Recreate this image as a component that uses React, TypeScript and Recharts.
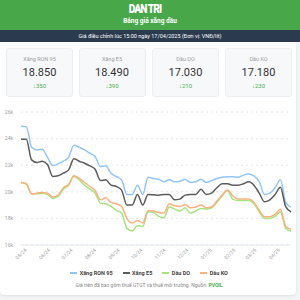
import React from 'react';
import { LineChart, Line, XAxis, YAxis, CartesianGrid } from 'recharts';

const dates = [
  '2024-04-25', '2024-05-02', '2024-05-09', '2024-05-16', '2024-05-23', '2024-05-30',
  '2024-06-06', '2024-06-13', '2024-06-20', '2024-06-27', '2024-07-04', '2024-07-11',
  '2024-07-18', '2024-07-25', '2024-08-01', '2024-08-08', '2024-08-15', '2024-08-22',
  '2024-08-29', '2024-09-05', '2024-09-12', '2024-09-19', '2024-09-26', '2024-10-03',
  '2024-10-10', '2024-10-17', '2024-10-24', '2024-10-31', '2024-11-07', '2024-11-14',
  '2024-11-21', '2024-11-28', '2024-12-05', '2024-12-12', '2024-12-19', '2024-12-26',
  '2025-01-02', '2025-01-09', '2025-01-16', '2025-01-23', '2025-01-30', '2025-02-06',
  '2025-02-13', '2025-02-20', '2025-02-27', '2025-03-06', '2025-03-13', '2025-03-20',
  '2025-03-27', '2025-04-03', '2025-04-10', '2025-04-17',
];

const ron95 = [
  24930, 24900, 23350, 23150, 23200, 22600, 21970, 22100, 22300, 22600, 23500, 23350,
  23150, 22900, 22650, 21900, 21950, 21400, 21150, 20900, 19800, 19800, 20500, 19800,
  21100, 21000, 20940, 20760, 20900, 20760, 20800, 20940, 20700, 20750, 20940, 20700,
  20850, 21000, 21100, 21140, 21140, 21100, 21250, 21340, 21200, 20760, 19800, 19900,
  20300, 20900, 19200, 18850,
];

const e5 = [
  23960, 23950, 22400, 22200, 22300, 22050, 21150, 21200, 21400, 21650, 22480, 22300,
  22150, 21950, 21700, 20850, 20900, 20500, 20400, 20130, 19000, 19000, 19800, 19000,
  19800, 19780, 19750, 19800, 19800, 19400, 19450, 19750, 19800, 19800, 20200, 19800,
  19900, 20300, 20600, 20600, 20500, 20500, 20600, 20760, 20500, 19900, 19250, 19400,
  19800, 20350, 18880, 18490,
];

const dieselDO = [
  20700, 20600, 19850, 19850, 19900, 19800, 19500, 19650, 20200, 20500, 21150, 20900,
  20500, 20200, 19900, 19150, 19100, 18900, 18600, 18400, 17250, 17050, 17450, 17400,
  18500, 18450, 18150, 18050, 18850, 18700, 18550, 18800, 18400, 18550, 18750, 18700,
  18800, 19200, 19700, 20100, 19450, 19350, 19350, 19350, 19100, 18500, 18000, 18000,
  18150, 18500, 17240, 17030,
];

const keroKO = [
  20700, 20600, 19850, 19900, 19950, 19900, 19600, 19750, 20300, 20550, 21200, 21000,
  20700, 20400, 20100, 19400, 19550, 19200, 19100, 18900, 18000, 17650, 17850, 17650,
  18600, 18550, 18450, 18400, 19100, 18950, 18900, 19050, 18800, 18850, 19000, 18800,
  18850, 19300, 19750, 20130, 19700, 19450, 19450, 19450, 19200, 18600, 18130, 18130,
  18300, 18680, 17410, 17180,
];

const tickDates = [
  '2024-05-01', '2024-06-01', '2024-07-01', '2024-08-01', '2024-09-01', '2024-10-01',
  '2024-11-01', '2024-12-01', '2025-01-01', '2025-02-01', '2025-03-01', '2025-04-01',
];
const tickLabels = ['05/24', '06/24', '07/24', '08/24', '09/24', '10/24', '11/24', '12/24', '01/25', '02/25', '03/25', '04/25'];
const yTicks = [16000, 18000, 20000, 22000, 24000, 26000];

const cardNames = ['Xăng RON 95', 'Xăng E5', 'Dầu DO', 'Dầu KO'];
const cardPrices = ['18.850', '18.490', '17.030', '17.180'];
const cardChanges = ['350', '390', '210', '230'];

const seriesNames = ['Xăng RON 95', 'Xăng E5', 'Dầu DO', 'Dầu KO'];
const seriesKeys = ['ron95', 'e5', 'do', 'ko'];
const seriesColors = ['#93c5f7', '#5b5b5b', '#a6e47e', '#f9b17f'];

const data = dates.map((d, i) => ({
  t: Date.parse(d),
  ron95: ron95[i],
  e5: e5[i],
  do: dieselDO[i],
  ko: keroKO[i],
}));

const tickValues = tickDates.map((d) => Date.parse(d));

const FONT = 'Roboto, "Open Sans", sans-serif';

const XTick = (props: any) => {
  const { x, y, payload } = props;
  const idx = tickValues.indexOf(payload.value);
  const label = idx >= 0 ? tickLabels[idx] : '';
  return (
    <text
      x={x}
      y={y}
      dy={2}
      textAnchor="end"
      transform={`rotate(-45 ${x} ${y})`}
      fontSize={5}
      fill="#9c9c9c"
      fontFamily={FONT}
    >
      {label}
    </text>
  );
};

const cardLefts = [6, 78.5, 152, 225];

export default function App() {
  return (
    <div
      style={{
        position: 'absolute',
        left: 0,
        top: 0,
        width: 300,
        height: 300,
        background: '#f3f4f6',
        overflow: 'hidden',
        fontFamily: FONT,
      }}
    >
      {/* Green header */}
      <div style={{ position: 'absolute', left: 0, top: 0, width: 300, height: 30, background: '#48a849' }} />
      <div
        style={{
          position: 'absolute',
          left: 0,
          top: 2,
          width: 290,
          textAlign: 'center',
          color: '#fff',
          fontWeight: 900,
          fontSize: 12.5,
          lineHeight: '14px',
          letterSpacing: -1.2,
          transform: 'scaleX(0.82)',
        }}
      >
        DAN TRI
      </div>
      <div
        style={{
          position: 'absolute',
          left: 0,
          top: 17,
          width: 300,
          textAlign: 'center',
          color: '#fff',
          fontWeight: 700,
          fontSize: 6.5,
          lineHeight: '8px',
        }}
      >
        Bảng giá xăng dầu
      </div>
      {/* Dark bar */}
      <div
        style={{
          position: 'absolute',
          left: 0,
          top: 30,
          width: 300,
          height: 12,
          background: '#2b3a4e',
          color: '#fff',
          fontSize: 5.5,
          lineHeight: '12px',
          textAlign: 'center',
        }}
      >
        Giá điều chỉnh lúc 15:00 ngày 17/04/2025 (Đơn vị: VNĐ/lít)
      </div>
      {/* White card */}
      <div
        style={{
          position: 'absolute',
          left: 0,
          top: 42,
          width: 296,
          height: 253,
          background: '#ffffff',
          borderRadius: '0 0 4px 4px',
          boxShadow: '0 1px 3px rgba(0,0,0,0.08)',
        }}
      />
      {/* Stat cards */}
      {cardNames.map((name, i) => (
        <div
          key={name}
          style={{
            position: 'absolute',
            left: cardLefts[i],
            top: 48,
            width: 67,
            height: 49,
            background: '#f7f8fa',
            border: '1px solid #eceef1',
            borderRadius: 3,
            boxSizing: 'border-box',
          }}
        >
          <div style={{ position: 'absolute', left: 0, top: 7, width: '100%', textAlign: 'center', fontSize: 5.5, color: '#a0a0a0', lineHeight: '7px' }}>
            {name}
          </div>
          <div style={{ position: 'absolute', left: 0, top: 17, width: '100%', textAlign: 'center', fontSize: 11, color: '#333', lineHeight: '13px' }}>
            {cardPrices[i]}
          </div>
          <div style={{ position: 'absolute', left: 0, top: 33, width: '100%', textAlign: 'center', fontSize: 6, color: '#4caf50', lineHeight: '8px' }}>
            <span style={{ fontWeight: 700 }}>↓</span>
            {cardChanges[i]}
          </div>
        </div>
      ))}
      {/* Chart */}
      <div style={{ position: 'absolute', left: 0, top: 100 }}>
        <LineChart width={300} height={170} data={data} margin={{ top: 12, right: 9, bottom: 0, left: 0 }}>
          <CartesianGrid vertical={false} strokeDasharray="2 3" stroke="#e6e6e6" />
          <XAxis
            dataKey="t"
            type="number"
            domain={['dataMin', 'dataMax']}
            ticks={tickValues}
            interval={0}
            tick={<XTick />}
            tickLine={false}
            tickSize={0}
            tickMargin={4}
            axisLine={{ stroke: '#e3e8f0', strokeWidth: 1 }}
            height={25}
          />
          <YAxis
            domain={[16000, 26000]}
            ticks={yTicks}
            interval={0}
            width={21}
            axisLine={false}
            tickLine={false}
            tickSize={0}
            tickMargin={8}
            tick={{ fontSize: 5, fill: '#9c9c9c', fontFamily: FONT }}
            tickFormatter={(v: number) => `${v / 1000}k`}
          />
          {seriesKeys.map((k, i) => (
            <Line
              key={k}
              type="monotone"
              dataKey={k}
              stroke={seriesColors[i]}
              strokeWidth={1.5}
              dot={false}
              isAnimationActive={false}
            />
          ))}
        </LineChart>
      </div>
      {/* Legend */}
      <div
        style={{
          position: 'absolute',
          left: 0,
          top: 269,
          width: 298,
          display: 'flex',
          justifyContent: 'center',
          alignItems: 'center',
          fontSize: 5.5,
          lineHeight: '8px',
          color: '#444',
          fontWeight: 700,
        }}
      >
        {seriesNames.map((n, i) => (
          <div key={n} style={{ display: 'flex', alignItems: 'center', margin: '0 5px' }}>
            <div style={{ width: 7, height: 1.5, background: seriesColors[i], marginRight: 2.5 }} />
            <span>{n}</span>
          </div>
        ))}
      </div>
      {/* Footnote */}
      <div
        style={{
          position: 'absolute',
          left: 0,
          top: 282,
          width: 298,
          textAlign: 'center',
          fontSize: 5,
          lineHeight: '7px',
          color: '#8a8a8a',
        }}
      >
        Giá trên đã bao gồm thuế GTGT và thuế môi trường. Nguồn:{' '}
        <span style={{ color: '#4caf50', fontWeight: 700 }}>PVOIL</span>
      </div>
    </div>
  );
}
